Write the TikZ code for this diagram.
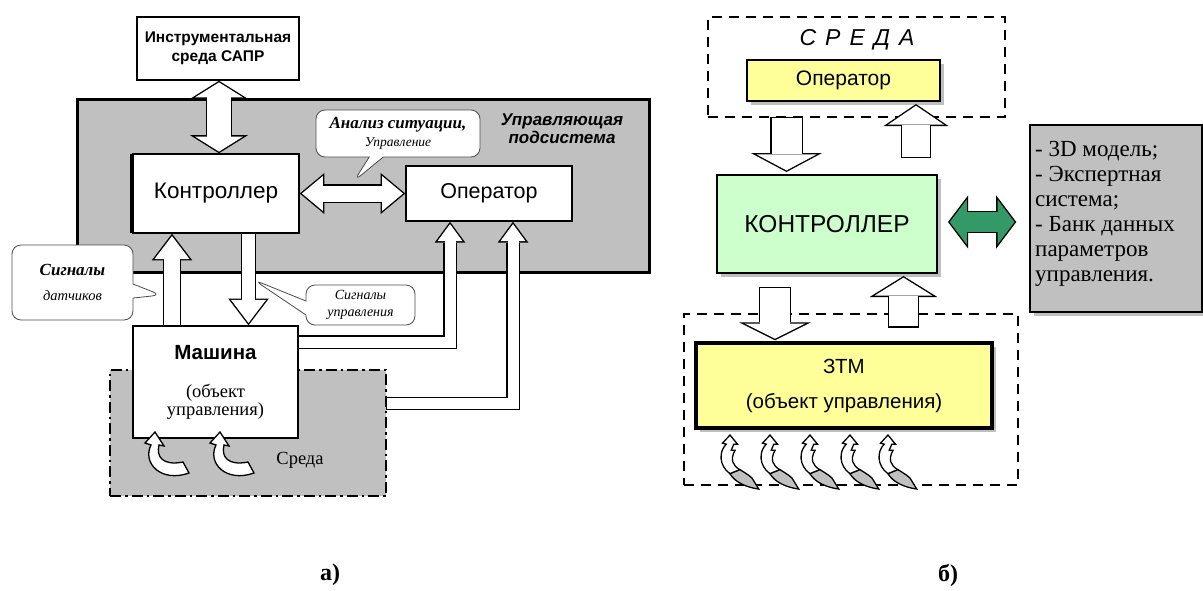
\documentclass[tikz,border=0pt]{standalone}
\usepackage{fontspec}
\setmainfont{Liberation Serif}
\setsansfont{Liberation Sans}
\usepackage{tikz}
\usetikzlibrary{arrows.meta,calc,shapes.callouts,shadows}
\definecolor{boxgray}{RGB}{192,192,192}
\definecolor{paleyellow}{RGB}{255,255,153}
\definecolor{palegreen}{RGB}{204,255,204}
\definecolor{darkgreen}{RGB}{51,153,102}
\newcommand{\setfs}[2]{\fontsize{#1}{#2}\selectfont}

\tikzset{
  block/.code n args={4}{%
    \pgfmathsetmacro\blkS{1.4/sin(atan(#2/(2*#3)))}%
    \pgfmathsetmacro\blkW{#1+2.8}%
    \pgfmathsetmacro\blkL{#3+\blkS+1.4}%
    \pgfmathsetmacro\blkH{#2*\blkL/#3}%
    \edef\blkopts{line width=#1pt, draw=#4, line join=miter, shorten >=\blkS pt,
      -{Triangle[width=#2pt,length=#3pt,line width=0pt]},
      preaction={draw=black, line width=\blkW pt, shorten >=0pt, shorten <=-1.4pt,
        -{Triangle[width=\blkH pt,length=\blkL pt,line width=0pt]}}}%
    \expandafter\tikzset\expandafter{\blkopts}},
  block2/.code n args={4}{%
    \pgfmathsetmacro\blkS{1.4/sin(atan(#2/(2*#3)))}%
    \pgfmathsetmacro\blkW{#1+2.8}%
    \pgfmathsetmacro\blkL{#3+\blkS+1.4}%
    \pgfmathsetmacro\blkH{#2*\blkL/#3}%
    \edef\blkopts{line width=#1pt, draw=#4, line join=miter,
      shorten >=\blkS pt, shorten <=\blkS pt,
      {Triangle[width=#2pt,length=#3pt,line width=0pt]}-{Triangle[width=#2pt,length=#3pt,line width=0pt]},
      preaction={draw=black, line width=\blkW pt, shorten >=0pt, shorten <=0pt,
        {Triangle[width=\blkH pt,length=\blkL pt,line width=0pt]}-{Triangle[width=\blkH pt,length=\blkL pt,line width=0pt]}}}%
    \expandafter\tikzset\expandafter{\blkopts}},
  box/.style={draw, fill=white, line width=1.5pt, inner sep=0pt},
  note/.style={rectangle callout, draw=black!70, fill=white, rounded corners=9pt,
    callout pointer width=14pt, inner sep=0pt, line width=0.8pt, align=center},
}

\begin{document}
\begin{tikzpicture}[x=1pt,y=-1pt]
\useasboundingbox (0,0) rectangle (1203,590);

\node[draw, line width=3pt, fill=boxgray, minimum width=572, minimum height=173] (sub) at (363,185.5) {};
\node[font=\sffamily\bfseries\itshape\setfs{17}{18}, align=center] (subname) at (562,129) {Управляющая\\подсистема};
\node[box, minimum width=162, minimum height=63, align=center, font=\sffamily\bfseries\setfs{15.5}{19}] (cad) at (218,48.5) {Инструментальная\\среда САПР};
\node[box, general shadow={shadow xshift=-3pt, fill=black}, minimum width=166, minimum height=79, font=\sffamily\setfs{22.5}{24}] (ctrl) at (216,193.5) {Контроллер};
\node[box, minimum width=166, minimum height=55, font=\sffamily\setfs{21.5}{24}] (oper) at (489,193.5) {Оператор};

\node[draw, line width=2pt, fill=boxgray, dash pattern=on 11pt off 4pt on 2.5pt off 4pt, minimum width=276, minimum height=126] (env) at (248,433) {};
\node[font=\rmfamily\setfs{18.5}{20}] (envname) at (300,460) {Среда};
\node[box, minimum width=165, minimum height=112, align=center, font=\rmfamily\setfs{18.5}{18}] (mach) at (215.5,382)
  {\sffamily\bfseries\setfs{20.5}{18}Машина\\[20pt](объект\\управления)};

\foreach \cx in {155,220} {
  \begin{scope}[shift={(\cx,432)}]
    \draw[fill=white, line width=1.3pt] (0,0) -- (9,14) -- (4,13) .. controls (1,25) and (8,34) .. (28,30)
      -- (34,41) .. controls (6,51) and (-13,31) .. (-4,13) -- (-10,11) -- cycle;
  \end{scope}
}

\coordinate (cx) at (219,0);
\coordinate (upx) at (172,0);
\coordinate (dnx) at (248.5,0);
\coordinate (l1) at (450,342);
\coordinate (l2) at (513,403.5);
\draw[block2={24}{48}{15}{white}] (cad.south -| cx) -- (ctrl.north -| cx);
\draw[block2={16}{35}{21}{white}] (ctrl.east) -- (oper.west);
\draw[block={16}{35}{23}{white}] (mach.north -| upx) -- (ctrl.south -| upx);
\draw[block={13}{35}{23}{white}] (ctrl.south -| dnx) -- (mach.north -| dnx);
\draw[block={11}{25}{17}{white}] (mach.east |- l1) -| (oper.south -| l1);
\draw[block={11}{25}{17}{white}] (env.east |- l2) -| (oper.south -| l2);

\coordinate (p1) at (354,181);
\coordinate (p2) at (161,295);
\coordinate (p3) at (254,280);
\node[note, minimum width=164, minimum height=47, callout absolute pointer={(p1)},
  font=\rmfamily\itshape\setfs{17}{18}] (c1) at (398,133.5)
  {\bfseries Анализ ситуации,\\\setfs{13.5}{18}Управление};
\node[note, minimum width=121, minimum height=75, callout absolute pointer={(p2)},
  font=\rmfamily\itshape\setfs{17}{25}] (c2) at (72.5,282.5)
  {\bfseries Сигналы\\\setfs{14.5}{25}датчиков};
\node[note, minimum width=109, minimum height=40, callout absolute pointer={(p3)},
  font=\rmfamily\itshape\setfs{14}{17}] (c3) at (360.5,305)
  {Сигналы\\управления};

\node[font=\rmfamily\bfseries\setfs{24}{24}] (capa) at (330,575) {а)};

\begin{scope}[shift={(660,0)}]
  \node[draw, line width=2pt, dash pattern=on 10pt off 7pt, minimum width=297, minimum height=100] (envtop) at (196.5,67) {};
  \node[font=\sffamily\itshape\setfs{23}{24}] (sreda) at (197,40) {С\hspace{9pt}Р\hspace{9pt}Е\hspace{9pt}Д\hspace{9pt}А};
  \node[draw, line width=2pt, fill=paleyellow, drop shadow={shadow xshift=4pt, shadow yshift=-4pt},
    minimum width=193, minimum height=41, font=\sffamily\setfs{21}{24}] (operR) at (183.5,80.5) {Оператор};
  \node[draw, line width=2pt, fill=palegreen, drop shadow={shadow xshift=4pt, shadow yshift=-4pt},
    minimum width=220, minimum height=98, font=\sffamily\setfs{24.5}{28}] (ctrlR) at (167,224) {КОНТРОЛЛЕР};
  \node[draw, line width=1.5pt, fill=boxgray, drop shadow={shadow xshift=4pt, shadow yshift=-4pt},
    minimum width=172, minimum height=187] (bank) at (456,218.5) {};
  \node[anchor=north west, align=left, inner sep=0pt, font=\rmfamily\setfs{23}{25}] (banktext) at (375,141)
    {- 3D модель;\\- Экспертная\\система;\\- Банк данных\\параметров\\управления.};

  \node[draw, line width=2pt, dash pattern=on 10pt off 7pt, minimum width=334, minimum height=171] (envbot) at (191,399.5) {};
  \node[draw, line width=3.5pt, fill=paleyellow, drop shadow={shadow xshift=4pt, shadow yshift=-4pt},
    minimum width=296, minimum height=85, align=center, font=\sffamily\setfs{20.5}{35}] (ztm) at (184,385.5)
    {ЗТМ\\(объект управления)};

  \foreach \cx in {70,110,150,190,228} {
    \begin{scope}[shift={(\cx,435)}, xscale=1.25, yscale=1.02]
      \draw[fill=white, line width=1.3pt] (0,0) -- (6,9) -- (3,9) -- (1,15) -- (4,15)
        .. controls (0,24) and (2,30) .. (8,34) -- (0,38) .. controls (-9,30) and (-9,16) .. (-3,9) -- (-6,8) -- cycle;
      \draw[fill=boxgray, line width=1.3pt] (8,34) .. controls (13,38) and (18,41) .. (19,45) -- (23,53)
        .. controls (12,51) and (4,46) .. (0,38) -- cycle;
    \end{scope}
  }

  \coordinate (a1) at (126.5,0);
  \coordinate (a2) at (256,0);
  \coordinate (a3) at (115,0);
  \coordinate (a4) at (243.5,0);
  \draw[block={30}{60}{16}{white}] (envtop.south -| a1) -- ($(ctrlR.north -| a1)+(0,-2)$);
  \draw[block={28}{56}{19}{white}] ($(ctrlR.north -| a2)+(0,-17)$) -- ($(operR.south -| a2)+(0,2)$);
  \draw[block={30}{60}{15}{white}] ($(ctrlR.south -| a3)+(0,14)$) -- ($(ztm.north -| a3)+(0,-1)$);
  \draw[block={29}{58}{18}{white}] ($(ztm.north -| a4)+(0,-15)$) -- ($(ctrlR.south -| a4)+(0,2)$);
  \draw[block2={20}{45}{17}{darkgreen}] ($(ctrlR.east)+(10,-2)$) -- ($(bank.west)+(-13,3.5)$);

  \node[font=\rmfamily\bfseries\setfs{24}{24}] (capb) at (288,575) {б)};
\end{scope}
\end{tikzpicture}
\end{document}
